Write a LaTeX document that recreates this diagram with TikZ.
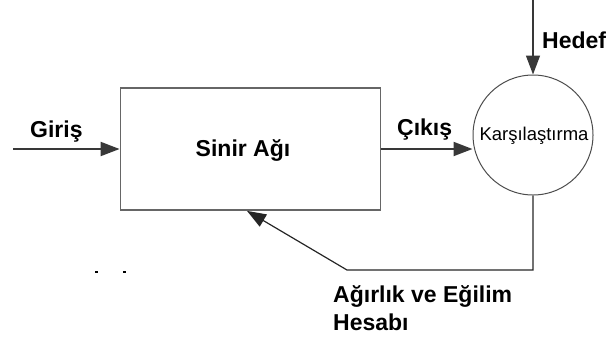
\documentclass[tikz,border=0pt]{standalone}
\usepackage{fontspec}
\setmainfont{Liberation Sans}
\usetikzlibrary{arrows.meta}
\begin{document}
\begin{tikzpicture}[x=1pt,y=-1pt,
  lbl/.style={font=\fontsize{23}{28}\selectfont\bfseries, inner sep=0pt, anchor=base west},
  flow/.style={draw=black!78, line width=2pt, -{Triangle[length=19pt,width=14pt]}},
  thin/.style={draw=black!85, line width=1.2pt},
  netbox/.style={draw=black!60, line width=1.8pt, minimum width=260pt, minimum height=122pt, inner sep=0pt},
  cmpcircle/.style={draw=black!70, line width=1pt, circle, minimum size=120pt, inner sep=0pt}]
  \useasboundingbox (0,0) rectangle (609,341);

  % blocks
  \node[netbox] (net) at (250.5,149) {};
  \node[lbl, anchor=base] (netlbl) at (243,156) {Sinir Ağı};
  \node[cmpcircle] (cmp) at (533,135) {};
  \node[font=\fontsize{18.5}{20}\selectfont, inner sep=0pt, anchor=base] (cmplbl) at (534,140) {Karşılaştırma};

  % free ends and bends
  \coordinate (in) at (13,149);
  \coordinate (goal) at (533,0);
  \coordinate (fbcorner) at (533,270);
  \coordinate (fbbend) at (347,270);

  % signal flow
  \draw[flow] (in) -- (net.west);
  \draw[flow] (net.east) -- (net.east -| cmp.west);
  \draw[flow, line width=1.4pt] (goal) -- (cmp.north);
  \draw[thin, -{Triangle[length=19pt,width=14pt]}] (cmp.south) -- (fbcorner) -- (fbbend) -- (247,0 |- net.south);

  % labels
  \node[lbl] (giris) at (30,137) {Giriş};
  \node[lbl] (cikis) at (397,135) {Çıkış};
  \node[lbl] (hedef) at (542,48) {Hedef};
  \node[lbl] (hesap1) at (333,302) {Ağırlık ve Eğilim};
  \node[lbl] (hesap2) at (333,330) {Hesabı};

  % two small marks
  \fill[black] (94.5,271) rectangle (97.5,273);
  \fill[black] (122.5,271) rectangle (125.5,273);
\end{tikzpicture}
\end{document}
